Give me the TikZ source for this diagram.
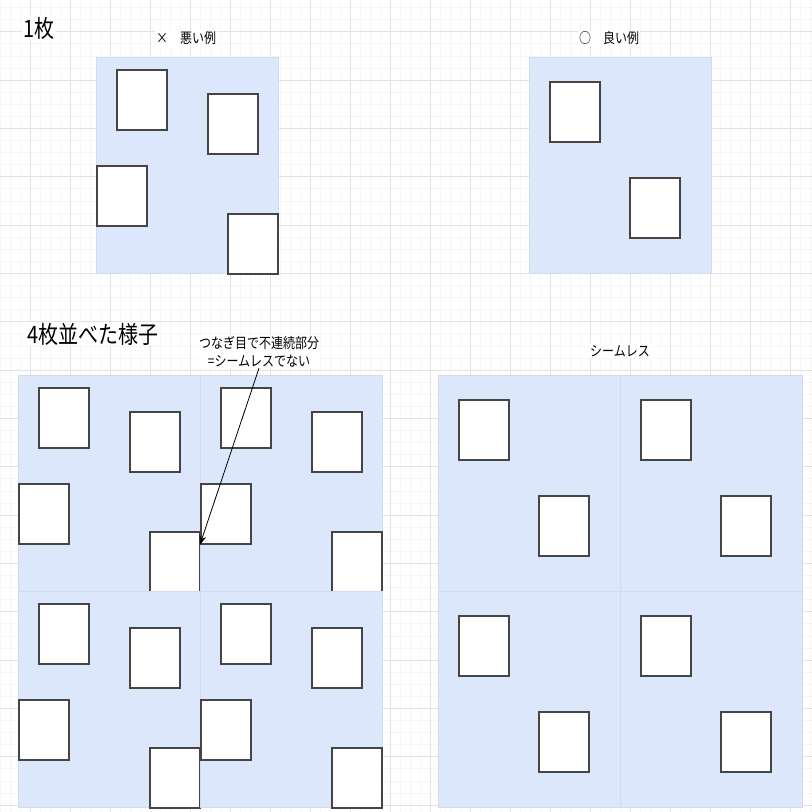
\documentclass[tikz,border=0pt]{standalone}
\usepackage{fontspec}
\newfontfamily\jp{Noto Sans CJK JP}
\usetikzlibrary{arrows.meta}
\definecolor{panelblue}{HTML}{DCE7FB}
\definecolor{paneledge}{HTML}{CFDCF2}
\definecolor{rectedge}{HTML}{454545}
\definecolor{gridmajor}{HTML}{E2E2E2}
\definecolor{gridminor}{HTML}{F6F6F6}
\tikzset{
  panel/.style={fill=panelblue, draw=paneledge, line width=0.8pt, minimum width=181.5pt, minimum height=216pt, inner sep=0pt, anchor=north west},
  tilebox/.style={fill=white, draw=rectedge, line width=1.6pt, minimum width=50pt, minimum height=60pt, inner sep=0pt, anchor=north west},
  bigtitle/.style={font=\jp\fontsize{20}{24}\selectfont, fill=white, inner sep=1pt},
  smalltext/.style={font=\jp\fontsize{12}{18}\selectfont, fill=white, inner sep=1pt, align=center},
  pointer/.style={draw=black, line width=0.8pt, -{Stealth[length=9pt,width=7pt]}}
}
\newcommand\badtile[3]{%
  \node[panel] (#1) at (#2,#3) {};
  \node[tilebox] (#1a) at (#2+20,#3+12) {};
  \node[tilebox] (#1b) at (#2+111,#3+36) {};
  \node[tilebox] (#1c) at (#2,#3+108) {};
  \node[tilebox] (#1d) at (#2+131,#3+156) {};
}
\newcommand\goodtile[3]{%
  \node[panel] (#1) at (#2,#3) {};
  \node[tilebox] (#1a) at (#2+20,#3+24) {};
  \node[tilebox] (#1b) at (#2+100,#3+120) {};
}
\begin{document}
\begin{tikzpicture}[x=1pt,y=-1pt]
\useasboundingbox (0,0) rectangle (812,812);
\fill[white] (0,0) rectangle (812,812);
% grid
\foreach \x in {0,10,...,810} \draw[gridminor, line width=0.6pt] (\x,0) -- (\x,812);
\foreach \i in {0,...,67} \draw[gridminor, line width=0.6pt] (0,7.5+12.083*\i) -- (812,7.5+12.083*\i);
\foreach \x in {30,70,...,790} \draw[gridmajor, line width=0.8pt] (\x,0) -- (\x,812);
\foreach \i in {0,...,16} \draw[gridmajor, line width=0.8pt] (0,31.67+48.33*\i) -- (812,31.67+48.33*\i);

% labels
\node[bigtitle] (t1) at (39,28) {\scalebox{1}[1.2]{1枚}};
\node[bigtitle] (t4) at (93,334) {\scalebox{1}[1.2]{4枚並べた様子}};
\node[smalltext] (badlbl) at (186,38) {\scalebox{1}[1.2]{×　悪い例}};
\node[smalltext] (goodlbl) at (609,38) {\scalebox{1}[1.2]{○　良い例}};
\node[smalltext] (seamlbl) at (620,351) {\scalebox{1}[1.2]{シームレス}};

% single tiles
\badtile{p}{96}{57}
\goodtile{q}{529}{57}

% four tiles, bad
\badtile{ba}{18}{375}
\badtile{bb}{200}{375}
\badtile{bc}{18}{591}
\badtile{bd}{200}{591}

% four tiles, good
\goodtile{ga}{438}{375}
\goodtile{gb}{620}{375}
\goodtile{gc}{438}{591}
\goodtile{gd}{620}{591}

% note and arrow
\node[smalltext] (note) at (259,351.5) {\scalebox{1}[1.2]{つなぎ目で不連続部分}\\\scalebox{1}[1.2]{=シームレスでない}};
\draw[pointer] (note.south) -- (bbc.south west);
\end{tikzpicture}
\end{document}
